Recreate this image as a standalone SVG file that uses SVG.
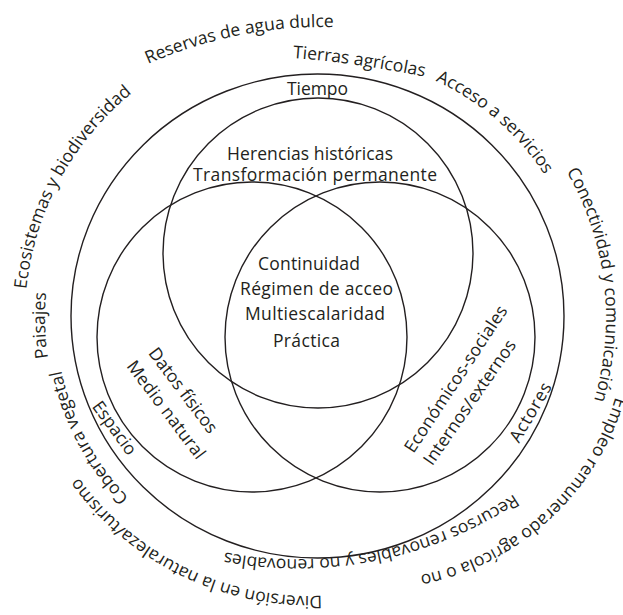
<svg xmlns="http://www.w3.org/2000/svg" width="623" height="615" viewBox="0 0 623 615">
<style>
.c{fill:none;stroke:#231f20;stroke-width:1.4}
text{font-family:"Open Sans","Noto Sans","DejaVu Sans",sans-serif;font-size:17.5px;fill:#231f20}
.m{text-anchor:middle}
</style>
<defs>
<path id="p-reservas" d="M148,64 A433,433 0 0 1 398.2,33.6"/>
<path id="p-tierras" d="M293,58 Q362,63 450,82"/>
<path id="p-acceso" d="M435.6,80.8 A260,260 0 0 1 562.6,207.1"/>
<path id="p-conect" d="M566.5,171.6 A291,291 0 0 1 588.4,417.5"/>
<path id="p-empleo" d="M615.5,397.1 A255.5,255.5 0 0 1 392.8,579"/>
<path id="p-recursos" d="M514,494 A393,393 0 0 1 188.7,543.8"/>
<path id="p-diversion" d="M321.9,595.75 A285,285 0 0 1 63.2,453.5"/>
<path id="p-cobertura" d="M128.7,497.9 A259,259 0 0 1 57,340.6"/>
<path id="p-paisajes" d="M48,357.9 A270,270 0 0 1 50.9,261.9"/>
<path id="p-ecosis" d="M26.4,289.2 A290,290 0 0 1 170,66.9"/>
</defs>
<rect width="623" height="615" fill="#fff"/>
<g id="contexto">
<ellipse class="c" cx="317.5" cy="316" rx="246.5" ry="242"/>
<text><textPath href="#p-reservas">Reservas de agua dulce</textPath></text>
<text><textPath href="#p-tierras">Tierras agrícolas</textPath></text>
<text><textPath href="#p-acceso">Acceso a servicios</textPath></text>
<text><textPath href="#p-conect">Conectividad y comunicación</textPath></text>
<text><textPath href="#p-empleo">Empleo remunerado agrícola o no</textPath></text>
<text><textPath href="#p-recursos">Recursos renovables y no renovables</textPath></text>
<text><textPath href="#p-diversion">Diversión en la naturaleza/turismo</textPath></text>
<text><textPath href="#p-cobertura">Cobertura vegetal</textPath></text>
<text><textPath href="#p-paisajes">Paisajes</textPath></text>
<text><textPath href="#p-ecosis">Ecosistemas y biodiversidad</textPath></text>
</g>
<g id="tiempo">
<circle class="c" cx="318" cy="253" r="155"/>
<text x="287" y="94.5" textLength="61">Tiempo</text>
<text x="227" y="159.5" textLength="166">Herencias históricas</text>
<text x="193" y="181" textLength="244">Transformación permanente</text>
</g>
<g id="espacio">
<circle class="c" cx="252" cy="337" r="155"/>
<text class="m" transform="translate(114.2,428.3) rotate(54)" y="5.5" textLength="62">Espacio</text>
<text class="m" transform="translate(182.8,390.7) rotate(53)" y="5.5" textLength="102">Datos físicos</text>
<text class="m" transform="translate(165.8,410) rotate(53)" y="5.5" textLength="118">Medio natural</text>
</g>
<g id="actores">
<circle class="c" cx="380" cy="337" r="155"/>
<text class="m" transform="translate(530.8,412.5) rotate(-59.7)" y="5.5" textLength="66">Actores</text>
<text class="m" transform="translate(456.2,379.2) rotate(-56.6)" y="5.5" textLength="172">Económicos-sociales</text>
<text class="m" transform="translate(470,402.5) rotate(-55.2)" y="5.5" textLength="148">Internos/externos</text>
</g>
<g id="centro">
<text x="258" y="269.5" textLength="102">Continuidad</text>
<text x="240" y="294.5" textLength="153">Régimen de acceo</text>
<text x="245" y="319.5" textLength="140">Multiescalaridad</text>
<text x="273" y="347" textLength="67">Práctica</text>
</g>
<g id="connectors"/>
</svg>
